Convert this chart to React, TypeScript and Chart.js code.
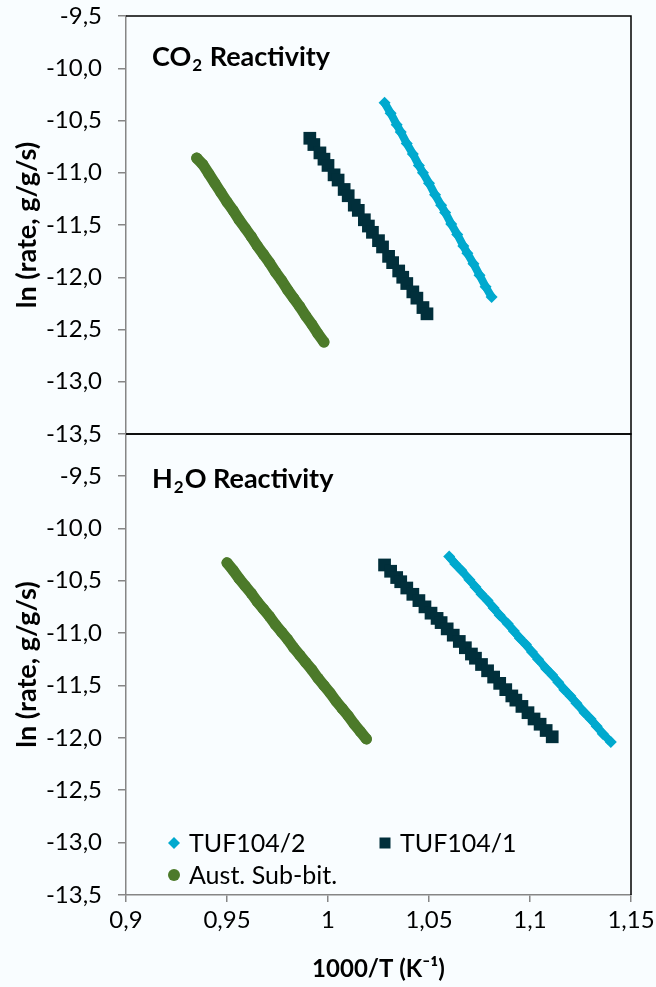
import React, { useEffect, useRef } from "react";
import { Chart, registerables } from "chart.js";
Chart.register(...registerables);

const FONT = "Lato, 'DejaVu Sans', sans-serif";
const CYAN = "#00A9CE";
const DARK = "#012F3B";
const GREEN = "#4C7A2A";
const AXIS_GREY = "#868686";
const BG = "#F9FDFF";

const xTicks = [0.9, 0.95, 1, 1.05, 1.1, 1.15];
const yTicks = [-13.5, -13, -12.5, -12, -11.5, -11, -10.5, -10, -9.5];
const seriesNames = ["TUF104/2", "TUF104/1", "Aust. Sub-bit."];
const panelTitles = [["CO", "2", " Reactivity"], ["H", "2", "O Reactivity"]];
const yTitle = "ln (rate, g/g/s)";
const xTitle = "1000/T (K⁻¹)";

// CO2 panel
const co2Tuf2X = [1.028, 1.031, 1.034, 1.036, 1.039, 1.042, 1.045, 1.047, 1.05, 1.053, 1.056, 1.058, 1.061, 1.064, 1.067, 1.069, 1.072, 1.075, 1.078, 1.081];
const co2Tuf2Y = [-10.33, -10.43, -10.54, -10.61, -10.72, -10.82, -10.93, -11.0, -11.1, -11.21, -11.31, -11.38, -11.49, -11.59, -11.7, -11.77, -11.87, -11.98, -12.09, -12.19];
const co2Tuf1X = [0.991, 0.993, 0.996, 0.998, 1.0, 1.003, 1.005, 1.008, 1.01, 1.013, 1.015, 1.018, 1.02, 1.022, 1.025, 1.027, 1.03, 1.032, 1.035, 1.037, 1.039, 1.042, 1.044, 1.047, 1.049];
const co2Tuf1Y = [-10.67, -10.73, -10.81, -10.87, -10.93, -11.02, -11.07, -11.16, -11.22, -11.31, -11.36, -11.45, -11.51, -11.57, -11.65, -11.71, -11.8, -11.86, -11.94, -12.0, -12.06, -12.14, -12.2, -12.29, -12.35];
const co2AustX = [0.935, 0.938, 0.941, 0.944, 0.947, 0.95, 0.953, 0.956, 0.959, 0.962, 0.965, 0.968, 0.971, 0.974, 0.977, 0.98, 0.983, 0.986, 0.989, 0.992, 0.995, 0.998];
const co2AustY = [-10.86, -10.92, -11.01, -11.1, -11.19, -11.28, -11.36, -11.45, -11.53, -11.61, -11.7, -11.78, -11.86, -11.95, -12.03, -12.12, -12.2, -12.28, -12.37, -12.45, -12.54, -12.62];

// H2O panel
const h2oTuf2X = [1.06, 1.063, 1.066, 1.07, 1.073, 1.076, 1.079, 1.082, 1.085, 1.089, 1.092, 1.095, 1.098, 1.101, 1.104, 1.108, 1.111, 1.114, 1.117, 1.12, 1.123, 1.127, 1.13, 1.133, 1.136, 1.14];
const h2oTuf2Y = [-10.27, -10.34, -10.4, -10.49, -10.56, -10.63, -10.69, -10.76, -10.83, -10.91, -10.98, -11.05, -11.11, -11.18, -11.25, -11.34, -11.4, -11.47, -11.54, -11.6, -11.67, -11.76, -11.82, -11.89, -11.96, -12.04];
const h2oTuf1X = [1.028, 1.031, 1.034, 1.036, 1.039, 1.042, 1.045, 1.048, 1.051, 1.054, 1.056, 1.059, 1.062, 1.065, 1.068, 1.071, 1.073, 1.076, 1.079, 1.082, 1.085, 1.088, 1.091, 1.093, 1.096, 1.099, 1.102, 1.105, 1.108, 1.111];
const h2oTuf1Y = [-10.35, -10.41, -10.47, -10.51, -10.57, -10.63, -10.69, -10.75, -10.81, -10.86, -10.9, -10.96, -11.02, -11.08, -11.14, -11.2, -11.24, -11.3, -11.36, -11.42, -11.48, -11.54, -11.6, -11.64, -11.7, -11.76, -11.82, -11.87, -11.93, -11.99];
const h2oAustX = [0.95, 0.953, 0.956, 0.959, 0.962, 0.965, 0.968, 0.971, 0.974, 0.977, 0.98, 0.983, 0.986, 0.989, 0.992, 0.995, 0.998, 1.001, 1.004, 1.007, 1.01, 1.013, 1.016, 1.019];
const h2oAustY = [-10.33, -10.4, -10.48, -10.55, -10.62, -10.7, -10.77, -10.84, -10.92, -10.99, -11.06, -11.14, -11.21, -11.28, -11.35, -11.43, -11.5, -11.57, -11.65, -11.72, -11.79, -11.87, -11.94, -12.01];

const zip = (xs: number[], ys: number[]) => xs.map((x, i) => ({ x, y: ys[i] }));
const fmtY = (v: number) => Number(v).toFixed(1).replace(".", ",");
const fmtX = (v: number) => String(parseFloat(Number(v).toFixed(2))).replace(".", ",");

function makeDatasets(t2x: number[], t2y: number[], t1x: number[], t1y: number[], ax: number[], ay: number[]) {
  return [
    {
      label: seriesNames[0], data: zip(t2x, t2y), showLine: true, borderColor: CYAN, borderWidth: 8,
      backgroundColor: CYAN, pointStyle: "rectRot", pointRadius: 6, pointBorderWidth: 0,
    },
    {
      label: seriesNames[1], data: zip(t1x, t1y), showLine: false, borderColor: DARK,
      backgroundColor: DARK, pointStyle: "rect", pointRadius: 9, pointBorderWidth: 0,
    },
    {
      label: seriesNames[2], data: zip(ax, ay), showLine: true, borderColor: GREEN, borderWidth: 11,
      borderCapStyle: "round", backgroundColor: GREEN, pointStyle: "circle", pointRadius: 5.5, pointBorderWidth: 0,
    },
  ];
}

function drawSubTitle(ctx: CanvasRenderingContext2D, x: number, y: number, parts: string[]) {
  ctx.save();
  ctx.fillStyle = "#000";
  ctx.textBaseline = "alphabetic";
  ctx.textAlign = "left";
  ctx.font = `bold 27px ${FONT}`;
  ctx.fillText(parts[0], x, y);
  let cx = x + ctx.measureText(parts[0]).width;
  ctx.font = `bold 17px ${FONT}`;
  ctx.fillText(parts[1], cx + 1, y + 5);
  cx += ctx.measureText(parts[1]).width + 2;
  ctx.font = `bold 27px ${FONT}`;
  ctx.fillText(parts[2], cx, y);
  ctx.restore();
}

function yScale(max: number) {
  return {
    type: "linear",
    min: -13.5,
    max,
    afterBuildTicks: (s: any) => { s.ticks = yTicks.map((v) => ({ value: v })); },
    afterFit: (s: any) => { s.width = 126; s.paddingTop = 0; s.paddingBottom = 0; },
    grid: { drawOnChartArea: false, drawTicks: true, tickLength: 8, color: AXIS_GREY, lineWidth: 1.5 },
    border: { color: AXIS_GREY, width: 1.5 },
    ticks: { font: { family: FONT, size: 24 }, color: "#000", padding: 16, callback: (v: any) => fmtY(v) },
    title: { display: true, text: yTitle, color: "#000", font: { family: FONT, size: 27, weight: "bold" }, padding: { top: 11, bottom: 0 } },
  };
}

function drawFrame(chart: any, withBottom: boolean) {
  const { ctx, chartArea: a } = chart;
  ctx.save();
  ctx.strokeStyle = "#000";
  ctx.lineWidth = 1.5;
  ctx.beginPath();
  ctx.moveTo(a.left, a.top);
  ctx.lineTo(a.right, a.top);
  ctx.lineTo(a.right, a.bottom);
  if (withBottom) ctx.lineTo(a.left, a.bottom);
  ctx.stroke();
  ctx.restore();
}

export default function App() {
  const topRef = useRef<HTMLCanvasElement>(null);
  const botRef = useRef<HTMLCanvasElement>(null);

  useEffect(() => {
    const top = new Chart(topRef.current as HTMLCanvasElement, {
      type: "scatter",
      data: { datasets: makeDatasets(co2Tuf2X, co2Tuf2Y, co2Tuf1X, co2Tuf1Y, co2AustX, co2AustY) as any },
      options: {
        responsive: false,
        animation: false,
        layout: { padding: { top: 16, bottom: 12, right: 25, left: 0 } },
        plugins: { legend: { display: false }, tooltip: { enabled: false } },
        scales: {
          x: { type: "linear", min: 0.9, max: 1.15, display: false },
          y: yScale(-9.5) as any,
        },
      },
      plugins: [{
        id: "frameTop",
        afterDraw: (chart: any) => {
          drawFrame(chart, true);
          drawSubTitle(chart.ctx, 152, 66, panelTitles[0]);
        },
      }],
    });

    const bot = new Chart(botRef.current as HTMLCanvasElement, {
      type: "scatter",
      data: { datasets: makeDatasets(h2oTuf2X, h2oTuf2Y, h2oTuf1X, h2oTuf1Y, h2oAustX, h2oAustY) as any },
      options: {
        responsive: false,
        animation: false,
        layout: { padding: { top: 14, bottom: 0, right: 25, left: 0 } },
        plugins: { legend: { display: false }, tooltip: { enabled: false } },
        scales: {
          x: {
            type: "linear",
            min: 0.9,
            max: 1.15,
            afterBuildTicks: (s: any) => { s.ticks = xTicks.map((v) => ({ value: v })); },
            afterFit: (s: any) => { s.height = 92; s.paddingLeft = 0; s.paddingRight = 0; },
            grid: { drawOnChartArea: false, drawTicks: true, tickLength: 7, color: AXIS_GREY, lineWidth: 1.5 },
            border: { color: AXIS_GREY, width: 1.5 },
            ticks: { font: { family: FONT, size: 24 }, color: "#000", padding: 4, maxRotation: 0, callback: (v: any) => fmtX(v) },
            title: { display: true, text: xTitle, color: "#000", font: { family: FONT, size: 24, weight: "bold" }, padding: { top: 0, bottom: 3 } },
          } as any,
          y: yScale(-9.1) as any,
        },
      },
      plugins: [{
        id: "frameBot",
        afterDraw: (chart: any) => {
          drawFrame(chart, false);
          const ctx = chart.ctx as CanvasRenderingContext2D;
          drawSubTitle(ctx, 152, 68, panelTitles[1]);
          // legend
          ctx.save();
          ctx.font = `25px ${FONT}`;
          ctx.fillStyle = "#000";
          ctx.textBaseline = "middle";
          ctx.textAlign = "left";
          const items = [
            { x: 174, y: 423, color: CYAN, shape: "diamond", label: seriesNames[0] },
            { x: 385, y: 423, color: DARK, shape: "square", label: seriesNames[1] },
            { x: 174, y: 455, color: GREEN, shape: "circle", label: seriesNames[2] },
          ];
          for (const it of items) {
            ctx.fillStyle = it.color;
            ctx.beginPath();
            if (it.shape === "diamond") {
              ctx.moveTo(it.x, it.y - 6); ctx.lineTo(it.x + 6, it.y); ctx.lineTo(it.x, it.y + 6); ctx.lineTo(it.x - 6, it.y); ctx.closePath();
            } else if (it.shape === "square") {
              ctx.rect(it.x - 5.5, it.y - 5.5, 11, 11);
            } else {
              ctx.arc(it.x, it.y, 6, 0, Math.PI * 2);
            }
            ctx.fill();
            ctx.fillStyle = "#000";
            ctx.fillText(it.label, it.x + 15, it.y + 1);
          }
          ctx.restore();
        },
      }],
    });

    return () => { top.destroy(); bot.destroy(); };
  }, []);

  return (
    <div style={{ position: "absolute", left: 0, top: 0, width: 656, height: 987, background: BG, overflow: "hidden" }}>
      <canvas ref={botRef} width={656} height={567} style={{ position: "absolute", left: 0, top: 420 }} />
      <canvas ref={topRef} width={656} height={446} style={{ position: "absolute", left: 0, top: 0 }} />
    </div>
  );
}
